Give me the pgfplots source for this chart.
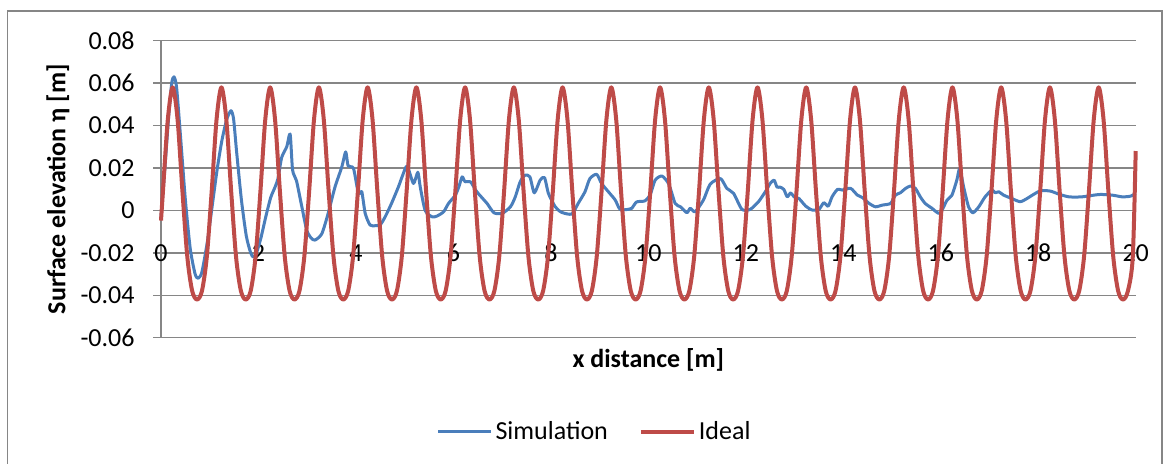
\documentclass[border=0pt]{standalone}
\usepackage{fontspec}
\setmainfont{Carlito}
\usepackage{pgfplots}
\pgfplotsset{compat=1.18}

\definecolor{simblue}{RGB}{74,126,187}
\definecolor{idealred}{RGB}{190,75,72}
\definecolor{gridgray}{RGB}{134,134,134}

\begin{document}
\begin{tikzpicture}[font=\fontsize{13}{15.6}\selectfont]
\path[use as bounding box] (0,0) rectangle (587.5pt,232pt);
% chart area frame
\draw[gridgray, line width=0.75pt] (3.65pt,-2pt) -- (3.65pt,226.5pt) -- (581pt,226.5pt) -- (581pt,-2pt);

\begin{axis}[
    at={(80.5pt,63.15pt)}, anchor=south west,
    scale only axis,
    width=487.35pt, height=148.5pt,
    xmin=0, xmax=20, ymin=-0.06, ymax=0.08,
    axis x line=middle, axis y line=left,
    axis line style={-, draw=gridgray, line width=0.75pt},
    hide obscured x ticks=false, hide obscured y ticks=false,
    scaled y ticks=false, scaled x ticks=false,
    xtick={0,2,4,6,8,10,12,14,16,18,20},
    xticklabels={0,2,4,6,8,10,12,14,16,18,20},
    ytick={-0.06,-0.04,-0.02,0,0.02,0.04,0.06,0.08},
    yticklabels={-0.06,-0.04,-0.02,0,0.02,0.04,0.06,0.08},
    xtick style={draw=none},
    ytick style={draw=gridgray, line width=0.75pt},
    tick align=outside, major tick length=4pt,
    ymajorgrids, grid style={gridgray, line width=0.75pt},
    xticklabel style={anchor=center, inner sep=0pt, yshift=-17.3pt},
    yticklabel style={anchor=east, inner sep=0pt, xshift=-9pt},
    xlabel={\textbf{x distance [m]}},
    ylabel={\textbf{Surface elevation η [m]}},
    xlabel style={at={(axis description cs:0.5,0)}, anchor=center, yshift=-11.2pt},
    ylabel style={at={(axis description cs:-0.1057,0.5)}, anchor=center},
    legend style={at={(axis description cs:0.4453,-0.3175)}, anchor=center,
        draw=none, fill=none, legend columns=2,
        /tikz/every even column/.append style={column sep=14pt},
        nodes={inner sep=1.5pt}},
    legend image code/.code={\draw[#1] (0pt,0pt) -- (26.5pt,0pt);},
    clip=false,
]

% Simulation
\addplot[simblue, line width=1.5pt, smooth, tension=0.4, line join=round] table {
0.00 -0.003
0.08 0.020
0.16 0.045
0.22 0.060
0.267 0.063
0.32 0.058
0.40 0.035
0.50 0.005
0.60 -0.018
0.70 -0.030
0.766 -0.032
0.84 -0.029
0.95 -0.015
1.05 0.002
1.15 0.019
1.25 0.033
1.35 0.043
1.437 0.047
1.49 0.043
1.55 0.028
1.65 0.005
1.75 -0.012
1.84 -0.020
1.896 -0.022
1.96 -0.020
2.05 -0.013
2.15 -0.003
2.25 0.006
2.34 0.011
2.40 0.015
2.477 0.025
2.58 0.030
2.65 0.036
2.70 0.019
2.78 0.014
2.89 0.0017
2.99 -0.0093
3.08 -0.013
3.16 -0.014
3.30 -0.011
3.43 -0.0014
3.57 0.011
3.71 0.0205
3.79 0.0276
3.84 0.021
3.95 0.0198
4.05 0.008
4.12 0.0088
4.19 -0.0014
4.29 -0.0069
4.40 -0.0072
4.495 -0.0069
4.60 -0.003
4.73 0.0033
4.87 0.011
4.95 0.016
5.05 0.0209
5.18 0.0127
5.27 0.018
5.32 0.011
5.42 0.0
5.56 -0.003
5.66 -0.0027
5.80 -0.0006
5.90 0.0033
6.04 0.0072
6.11 0.011
6.18 0.0158
6.24 0.0135
6.35 0.0135
6.48 0.0088
6.69 0.0033
6.83 -0.0011
7.00 -0.0014
7.17 0.0017
7.27 0.0064
7.37 0.0135
7.47 0.0166
7.57 0.0158
7.66 0.0083
7.78 0.0143
7.87 0.0155
7.95 0.008
8.09 0.0017
8.22 -0.0009
8.43 -0.0017
8.56 0.0033
8.70 0.0088
8.80 0.015
8.94 0.017
9.04 0.0127
9.18 0.0088
9.32 0.0049
9.42 0.0005
9.59 0.0005
9.66 0.001
9.76 0.004
9.93 0.0045
10.04 0.0075
10.14 0.0143
10.28 0.0162
10.42 0.0124
10.55 0.0033
10.66 0.0017
10.79 -0.0011
10.86 0.001
10.96 -0.0006
11.13 0.0049
11.27 0.0124
11.48 0.015
11.61 0.0104
11.75 0.008
11.92 0.0005
12.09 0.0005
12.26 0.0041
12.40 0.0088
12.50 0.0127
12.58 0.0143
12.64 0.011
12.70 0.011
12.78 0.0099
12.85 0.0064
12.92 0.0083
12.99 0.0064
13.09 0.0056
13.23 0.002
13.36 0.0002
13.50 0.0005
13.60 0.0036
13.69 0.002
13.77 0.0064
13.88 0.0099
13.98 0.0096
14.15 0.0104
14.29 0.0072
14.39 0.0061
14.53 0.0033
14.66 0.0017
14.80 0.0025
14.97 0.0033
15.07 0.0072
15.17 0.0083
15.28 0.0104
15.38 0.0115
15.48 0.0104
15.58 0.0064
15.68 0.0033
15.82 0.001
15.98 -0.0014
16.13 0.0049
16.23 0.0072
16.33 0.0143
16.39 0.0198
16.47 0.011
16.57 0.0017
16.66 -0.0011
16.78 0.0017
16.91 0.0064
17.05 0.0096
17.12 0.0083
17.19 0.0088
17.29 0.0072
17.46 0.0056
17.63 0.0041
17.77 0.0056
17.88 0.0072
18.05 0.0093
18.25 0.0091
18.42 0.0077
18.63 0.0064
18.90 0.0064
19.25 0.0075
19.52 0.0072
19.72 0.0064
19.89 0.0067
20.00 0.008
};
\addlegendentry{Simulation}

% Ideal
\addplot[idealred, line width=2pt, smooth, line join=round] table {
0.00 -0.0048
0.04 0.0090
0.14 0.0429
0.24 0.0580
0.34 0.0429
0.44 0.0090
0.54 -0.0219
0.64 -0.0380
0.74 -0.0420
0.84 -0.0380
0.94 -0.0219
1.04 0.0090
1.14 0.0429
1.24 0.0580
1.34 0.0429
1.44 0.0090
1.54 -0.0219
1.64 -0.0380
1.74 -0.0420
1.84 -0.0380
1.94 -0.0219
2.04 0.0090
2.14 0.0429
2.24 0.0580
2.34 0.0429
2.44 0.0090
2.54 -0.0219
2.64 -0.0380
2.74 -0.0420
2.84 -0.0380
2.94 -0.0219
3.04 0.0090
3.14 0.0429
3.24 0.0580
3.34 0.0429
3.44 0.0090
3.54 -0.0219
3.64 -0.0380
3.74 -0.0420
3.84 -0.0380
3.94 -0.0219
4.04 0.0090
4.14 0.0429
4.24 0.0580
4.34 0.0429
4.44 0.0090
4.54 -0.0219
4.64 -0.0380
4.74 -0.0420
4.84 -0.0380
4.94 -0.0219
5.04 0.0090
5.14 0.0429
5.24 0.0580
5.34 0.0429
5.44 0.0090
5.54 -0.0219
5.64 -0.0380
5.74 -0.0420
5.84 -0.0380
5.94 -0.0219
6.04 0.0090
6.14 0.0429
6.24 0.0580
6.34 0.0429
6.44 0.0090
6.54 -0.0219
6.64 -0.0380
6.74 -0.0420
6.84 -0.0380
6.94 -0.0219
7.04 0.0090
7.14 0.0429
7.24 0.0580
7.34 0.0429
7.44 0.0090
7.54 -0.0219
7.64 -0.0380
7.74 -0.0420
7.84 -0.0380
7.94 -0.0219
8.04 0.0090
8.14 0.0429
8.24 0.0580
8.34 0.0429
8.44 0.0090
8.54 -0.0219
8.64 -0.0380
8.74 -0.0420
8.84 -0.0380
8.94 -0.0219
9.04 0.0090
9.14 0.0429
9.24 0.0580
9.34 0.0429
9.44 0.0090
9.54 -0.0219
9.64 -0.0380
9.74 -0.0420
9.84 -0.0380
9.94 -0.0219
10.04 0.0090
10.14 0.0429
10.24 0.0580
10.34 0.0429
10.44 0.0090
10.54 -0.0219
10.64 -0.0380
10.74 -0.0420
10.84 -0.0380
10.94 -0.0219
11.04 0.0090
11.14 0.0429
11.24 0.0580
11.34 0.0429
11.44 0.0090
11.54 -0.0219
11.64 -0.0380
11.74 -0.0420
11.84 -0.0380
11.94 -0.0219
12.04 0.0090
12.14 0.0429
12.24 0.0580
12.34 0.0429
12.44 0.0090
12.54 -0.0219
12.64 -0.0380
12.74 -0.0420
12.84 -0.0380
12.94 -0.0219
13.04 0.0090
13.14 0.0429
13.24 0.0580
13.34 0.0429
13.44 0.0090
13.54 -0.0219
13.64 -0.0380
13.74 -0.0420
13.84 -0.0380
13.94 -0.0219
14.04 0.0090
14.14 0.0429
14.24 0.0580
14.34 0.0429
14.44 0.0090
14.54 -0.0219
14.64 -0.0380
14.74 -0.0420
14.84 -0.0380
14.94 -0.0219
15.04 0.0090
15.14 0.0429
15.24 0.0580
15.34 0.0429
15.44 0.0090
15.54 -0.0219
15.64 -0.0380
15.74 -0.0420
15.84 -0.0380
15.94 -0.0219
16.04 0.0090
16.14 0.0429
16.24 0.0580
16.34 0.0429
16.44 0.0090
16.54 -0.0219
16.64 -0.0380
16.74 -0.0420
16.84 -0.0380
16.94 -0.0219
17.04 0.0090
17.14 0.0429
17.24 0.0580
17.34 0.0429
17.44 0.0090
17.54 -0.0219
17.64 -0.0380
17.74 -0.0420
17.84 -0.0380
17.94 -0.0219
18.04 0.0090
18.14 0.0429
18.24 0.0580
18.34 0.0429
18.44 0.0090
18.54 -0.0219
18.64 -0.0380
18.74 -0.0420
18.84 -0.0380
18.94 -0.0219
19.04 0.0090
19.14 0.0429
19.24 0.0580
19.34 0.0429
19.44 0.0090
19.54 -0.0219
19.64 -0.0380
19.74 -0.0420
19.84 -0.0380
19.94 -0.0219
20.00 0.0280
};
\addlegendentry{Ideal}
\end{axis}
\end{tikzpicture}
\end{document}
